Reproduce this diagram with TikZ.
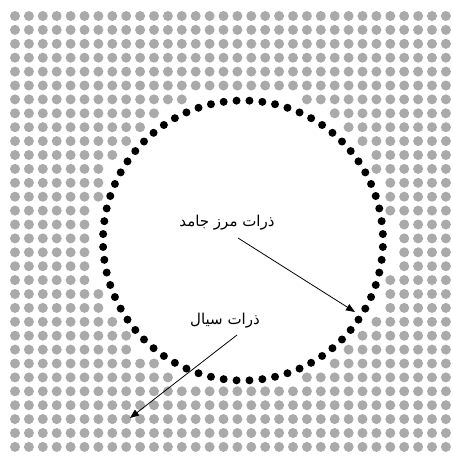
\documentclass[tikz,border=0pt]{standalone}
\usepackage{fontspec}
\TeXXeTstate=1
\newfontfamily\arabicfont[Script=Arabic]{DejaVu Sans}
\usetikzlibrary{arrows.meta}
\definecolor{fluidgrey}{HTML}{AAAAAA}
\tikzset{
  fluiddot/.style={fill=fluidgrey},
  walldot/.style={fill=black},
  label/.style={font=\arabicfont\fontsize{15}{17}\selectfont, inner sep=1pt},
  pointer/.style={line width=0.8pt, -{Triangle[length=9pt,width=7pt]}}
}
\begin{document}
\begin{tikzpicture}[x=1pt,y=-1pt]
\useasboundingbox[fill=white] (0,0) rectangle (453,456);
% fluid particles
\foreach \i in {0,...,31}{
  \foreach \j in {0,...,31}{
    \pgfmathsetmacro\xx{15+13.9*\i}
    \pgfmathsetmacro\yy{16+13.9*\j}
    \pgfmathsetmacro\dd{((\xx-243)/100)^2+((\yy-240.5)/100)^2}
    \ifdim\dd pt>2.25pt
      \fill[fluiddot] (\xx,\yy) circle (5);
    \fi
  }
}
% solid boundary particles
\foreach \k in {0,...,67}{
  \pgfmathsetmacro\ang{90+(\k+0.5)*5.294118}
  \fill[walldot] ({243+140*cos(\ang)},{240.5+140*sin(\ang)}) circle (4);
}
% labels
\node[label] (solid) at (227,223) {\beginR ذرات مرز جامد\endR};
\node[label] (fluid) at (225,321) {\beginR ذرات سیال\endR};
\coordinate (s0) at (238,238);
\coordinate (s1) at (355,312);
\coordinate (f0) at (237,335);
\coordinate (f1) at (130,418);
\draw[pointer] (s0) -- (s1);
\draw[pointer] (f0) -- (f1);
\end{tikzpicture}
\end{document}
